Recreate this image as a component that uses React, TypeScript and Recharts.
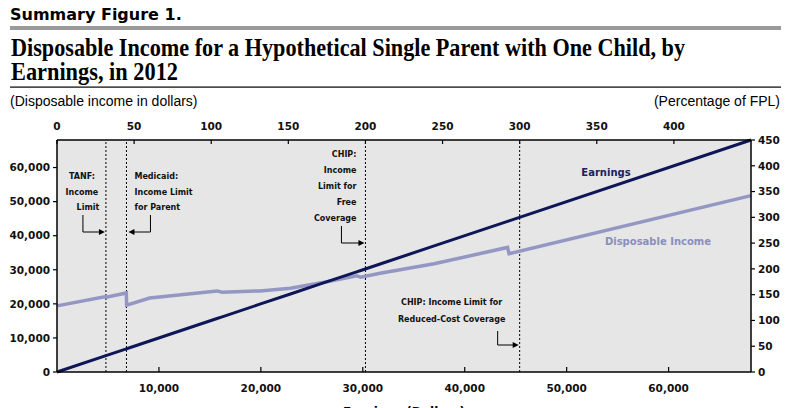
import React from "react";
import { LineChart, Line, XAxis, YAxis, CartesianGrid, ReferenceLine } from "recharts";

// 2012 poverty guideline for a family of two
const FPL = 15130;
const MAX_DOLLARS = FPL * 4.5;

// earnings (x) and disposable income
const earningsPoints = [0, 4800, 4950, 6800, 6830, 9100, 15700, 16200, 19900, 22900, 26500, 29400, 29800, 31700, 37000, 44200, 44350, 68085];
const disposableIncome = [19400, 22150, 22000, 23200, 19600, 21700, 23800, 23400, 23800, 24600, 26500, 28250, 27850, 29000, 31750, 36550, 34700, 51750];

const dollarTicks = [0, 10000, 20000, 30000, 40000, 50000, 60000];
const earningsTicks = [10000, 20000, 30000, 40000, 50000, 60000];
const pctTopTicks = [0, 50, 100, 150, 200, 250, 300, 350, 400];
const pctRightTicks = [0, 50, 100, 150, 200, 250, 300, 350, 400, 450];

// program limits in dollars of earnings
const tanfLimit = 4800;
const medicaidLimit = 6815;
const chipFreeLimit = FPL * 2;
const chipReducedLimit = FPL * 3;

const data = earningsPoints.map((e, i) => ({ earnings: e, disposable: disposableIncome[i] }));

const FONT = "'DejaVu Sans', Verdana, sans-serif";
const SERIF = "'Liberation Serif', 'Times New Roman', serif";
const tickStyle = { fontFamily: FONT, fontWeight: 700, fontSize: 10.5, fill: "#111" };
const noteStyle = { fontFamily: FONT, fontWeight: 700, fontSize: 8, fill: "#111" };

const fmt = (v: number) => v.toLocaleString("en-US");
const toPct = (v: number) => String(Math.round((v / FPL) * 100));

const TopTick = (props: any) => {
  const { x, y, payload } = props;
  return (
    <g>
      <text x={x} y={y} textAnchor="middle" {...tickStyle}>{toPct(payload.value)}</text>
      <line x1={x} x2={x} y1={y + 10} y2={y + 14} stroke="#000" strokeWidth={1.2} />
    </g>
  );
};

const BottomTick = (props: any) => {
  const { x, y, payload } = props;
  return (
    <g>
      <text x={x} y={y} textAnchor="middle" {...tickStyle}>{fmt(payload.value)}</text>
      <line x1={x} x2={x} y1={y - 20} y2={y - 25} stroke="#000" strokeWidth={1.2} />
    </g>
  );
};

const arrowRight = (x: number, y: number) => `${x},${y} ${x - 6},${y - 3} ${x - 6},${y + 3}`;
const arrowLeft = (x: number, y: number) => `${x},${y} ${x + 6},${y - 3} ${x + 6},${y + 3}`;

const TanfLabel = ({ viewBox }: any) => {
  const x = viewBox.x;
  const t = viewBox.y;
  return (
    <g>
      <text x={x - 24} y={t + 39} textAnchor="middle" {...noteStyle}>TANF:</text>
      <text x={x - 24} y={t + 55} textAnchor="middle" {...noteStyle}>Income</text>
      <text x={x - 18} y={t + 70} textAnchor="middle" {...noteStyle}>Limit</text>
      <path d={`M${x - 23},${t + 75} V${t + 92} H${x - 6}`} fill="none" stroke="#000" strokeWidth={1} />
      <polygon points={arrowRight(x - 1, t + 92)} fill="#000" />
    </g>
  );
};

const MedicaidLabel = ({ viewBox }: any) => {
  const x = viewBox.x;
  const t = viewBox.y;
  return (
    <g>
      <text x={x + 8} y={t + 39} {...noteStyle}>Medicaid:</text>
      <text x={x + 8} y={t + 55} {...noteStyle}>Income Limit</text>
      <text x={x + 8} y={t + 70} {...noteStyle}>for Parent</text>
      <path d={`M${x + 24},${t + 75} V${t + 92} H${x + 7}`} fill="none" stroke="#000" strokeWidth={1} />
      <polygon points={arrowLeft(x + 2, t + 92)} fill="#000" />
    </g>
  );
};

const ChipFreeLabel = ({ viewBox }: any) => {
  const x = viewBox.x;
  const t = viewBox.y;
  const lines = ["CHIP:", "Income", "Limit for", "Free", "Coverage"];
  return (
    <g>
      {lines.map((s, i) => (
        <text key={s} x={x - 9} y={t + 17 + i * 16} textAnchor="end" {...noteStyle}>{s}</text>
      ))}
      <path d={`M${x - 24},${t + 86} V${t + 103} H${x - 6}`} fill="none" stroke="#000" strokeWidth={1} />
      <polygon points={arrowRight(x - 1, t + 103)} fill="#000" />
    </g>
  );
};

const ChipReducedLabel = ({ viewBox }: any) => {
  const x = viewBox.x;
  const t = viewBox.y;
  return (
    <g>
      <text x={x - 68} y={t + 165} textAnchor="middle" {...noteStyle}>CHIP: Income Limit for</text>
      <text x={x - 68} y={t + 182} textAnchor="middle" {...noteStyle}>Reduced-Cost Coverage</text>
      <path d={`M${x - 22},${t + 191} V${t + 205} H${x - 6}`} fill="none" stroke="#000" strokeWidth={1} />
      <polygon points={arrowRight(x - 1, t + 205)} fill="#000" />
    </g>
  );
};

const axisLine = { stroke: "#000", strokeWidth: 1.5 };

export default function App() {
  return (
    <div style={{ position: "relative", width: 798, height: 408, background: "#fff", overflow: "hidden" }}>
      <style>{`body{margin:0;overflow:hidden}`}</style>
      <LineChart
        width={798}
        height={408}
        data={data}
        margin={{ top: 110, right: 0, bottom: 0, left: 0 }}
        style={{ position: "absolute", left: 0, top: 0 }}
      >
        <CartesianGrid horizontal={false} vertical={false} fill="#e6e6e6" xAxisId="bottom" yAxisId="left" />
        <XAxis
          xAxisId="bottom"
          dataKey="earnings"
          type="number"
          domain={[0, MAX_DOLLARS]}
          ticks={earningsTicks}
          orientation="bottom"
          height={36}
          tickSize={0}
          tickMargin={20}
          axisLine={axisLine}
          tick={<BottomTick />}
          interval={0}
        />
        <XAxis
          xAxisId="top"
          dataKey="earnings"
          type="number"
          domain={[0, MAX_DOLLARS]}
          ticks={pctTopTicks.map((p) => (p * FPL) / 100)}
          orientation="top"
          height={30}
          tickSize={0}
          tickMargin={10}
          axisLine={axisLine}
          tick={<TopTick />}
          interval={0}
        />
        <YAxis
          yAxisId="left"
          type="number"
          domain={[0, MAX_DOLLARS]}
          ticks={dollarTicks}
          width={57}
          tickSize={4}
          tickMargin={3}
          tickFormatter={fmt}
          tick={tickStyle}
          tickLine={{ stroke: "#000", strokeWidth: 1.2 }}
          axisLine={axisLine}
          interval={0}
        />
        <YAxis
          yAxisId="right"
          orientation="right"
          type="number"
          domain={[0, MAX_DOLLARS]}
          ticks={pctRightTicks.map((p) => (p * FPL) / 100)}
          width={47}
          tickSize={4}
          tickMargin={3}
          tickFormatter={toPct}
          tick={{ ...tickStyle, textAnchor: "start" }}
          tickLine={{ stroke: "#000", strokeWidth: 1.2 }}
          axisLine={axisLine}
          interval={0}
        />
        <ReferenceLine xAxisId="bottom" yAxisId="left" x={tanfLimit} stroke="#000" strokeWidth={1} strokeDasharray="2 2" label={(p: any) => <TanfLabel {...p} />} />
        <ReferenceLine xAxisId="bottom" yAxisId="left" x={medicaidLimit} stroke="#000" strokeWidth={1} strokeDasharray="2 2" label={(p: any) => <MedicaidLabel {...p} />} />
        <ReferenceLine xAxisId="bottom" yAxisId="left" x={chipFreeLimit} stroke="#000" strokeWidth={1} strokeDasharray="2 2" label={(p: any) => <ChipFreeLabel {...p} />} />
        <ReferenceLine xAxisId="bottom" yAxisId="left" x={chipReducedLimit} stroke="#000" strokeWidth={1} strokeDasharray="2 2" label={(p: any) => <ChipReducedLabel {...p} />} />
        <Line
          xAxisId="bottom"
          yAxisId="left"
          dataKey="disposable"
          type="linear"
          stroke="#9497c3"
          strokeWidth={3.5}
          dot={false}
          isAnimationActive={false}
        />
        <Line
          xAxisId="top"
          yAxisId="right"
          dataKey="earnings"
          type="linear"
          stroke="#0d1657"
          strokeWidth={3}
          dot={false}
          isAnimationActive={false}
        />
      </LineChart>
      <svg width={798} height={408} style={{ position: "absolute", left: 0, top: 0, pointerEvents: "none" }}>
        <text x={10} y={20} fontFamily={FONT} fontWeight={700} fontSize={16} fill="#000">Summary Figure 1.</text>
        <rect x={10} y={26} width={771} height={4} fill="#9a9a9a" />
        <text fontFamily={SERIF} fontWeight={700} fontSize={25} fill="#000">
          <tspan x={11} y={56} textLength={674} lengthAdjust="spacingAndGlyphs">
            Disposable Income for a Hypothetical Single Parent with One Child, by
          </tspan>
          <tspan x={11} y={80} textLength={167} lengthAdjust="spacingAndGlyphs">
            Earnings, in 2012
          </tspan>
        </text>
        <rect x={10} y={86.5} width={771} height={1.2} fill="#000" />
        <text x={10} y={106} fontFamily="'Liberation Sans', Arial, sans-serif" fontSize={14} fill="#000">(Disposable income in dollars)</text>
        <text x={780} y={106} textAnchor="end" fontFamily="'Liberation Sans', Arial, sans-serif" fontSize={14} fill="#000">(Percentage of FPL)</text>
        <text x={606} y={176} textAnchor="middle" fontFamily={FONT} fontWeight={700} fontSize={10} fill="#1a2060">Earnings</text>
        <text x={658} y={245} textAnchor="middle" fontFamily={FONT} fontWeight={700} fontSize={10} fill="#8a8ebd">Disposable Income</text>
        <text x={404} y={416} textAnchor="middle" fontFamily={FONT} fontWeight={700} fontSize={12} fill="#000">Earnings (Dollars)</text>
      </svg>
    </div>
  );
}
